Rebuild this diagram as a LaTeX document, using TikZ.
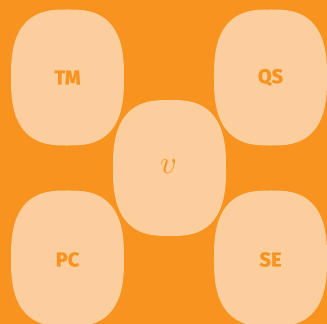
\documentclass[tikz,border=0pt]{standalone}
\usepackage{fontspec}
\newfontfamily\labelfont[BoldFeatures={FakeBold=1.2}]{Fira Sans}
\definecolor{bgorange}{HTML}{F7931E}
\definecolor{blobfill}{HTML}{FCCE9E}
\tikzset{
  blob/.style={fill=blobfill, draw=none},
  blobtext/.style={text=bgorange, font=\labelfont\bfseries\fontsize{20}{20}\selectfont, inner sep=0pt}
}
% superellipse outline centred at the current shift
\newcommand{\blobshape}{%
  plot[domain=0.5:360.5, samples=121, smooth cycle]
    ({56.5*sign(cos(\x))*abs(cos(\x))^(0.72)}, {68*sign(sin(\x))*abs(sin(\x))^(0.75)})}
\begin{document}
\begin{tikzpicture}[x=1pt, y=-1pt]
  \fill[bgorange] (0,0) rectangle (327,324);
  \useasboundingbox (0,0) rectangle (327,324);
  \begin{scope}[shift={(67.5,77.5)}] \fill[blob] \blobshape; \end{scope}
  \begin{scope}[shift={(270.5,77.5)}] \fill[blob] \blobshape; \end{scope}
  \begin{scope}[shift={(169.5,168)}] \fill[blob] \blobshape; \end{scope}
  \begin{scope}[shift={(67.5,258.5)}] \fill[blob] \blobshape; \end{scope}
  \begin{scope}[shift={(270.5,258.5)}] \fill[blob] \blobshape; \end{scope}
  \node[blobtext] (tm) at (67.5,77.5) {TM};
  \node[blobtext] (qs) at (270.5,77.5) {QS};
  \node[blobtext] (pc) at (67.5,259.5) {PC};
  \node[blobtext] (se) at (270.5,259.5) {SE};
  \node[text=bgorange, scale=3.2, inner sep=0pt] (v) at (168.5,167) {$v$};
\end{tikzpicture}
\end{document}
